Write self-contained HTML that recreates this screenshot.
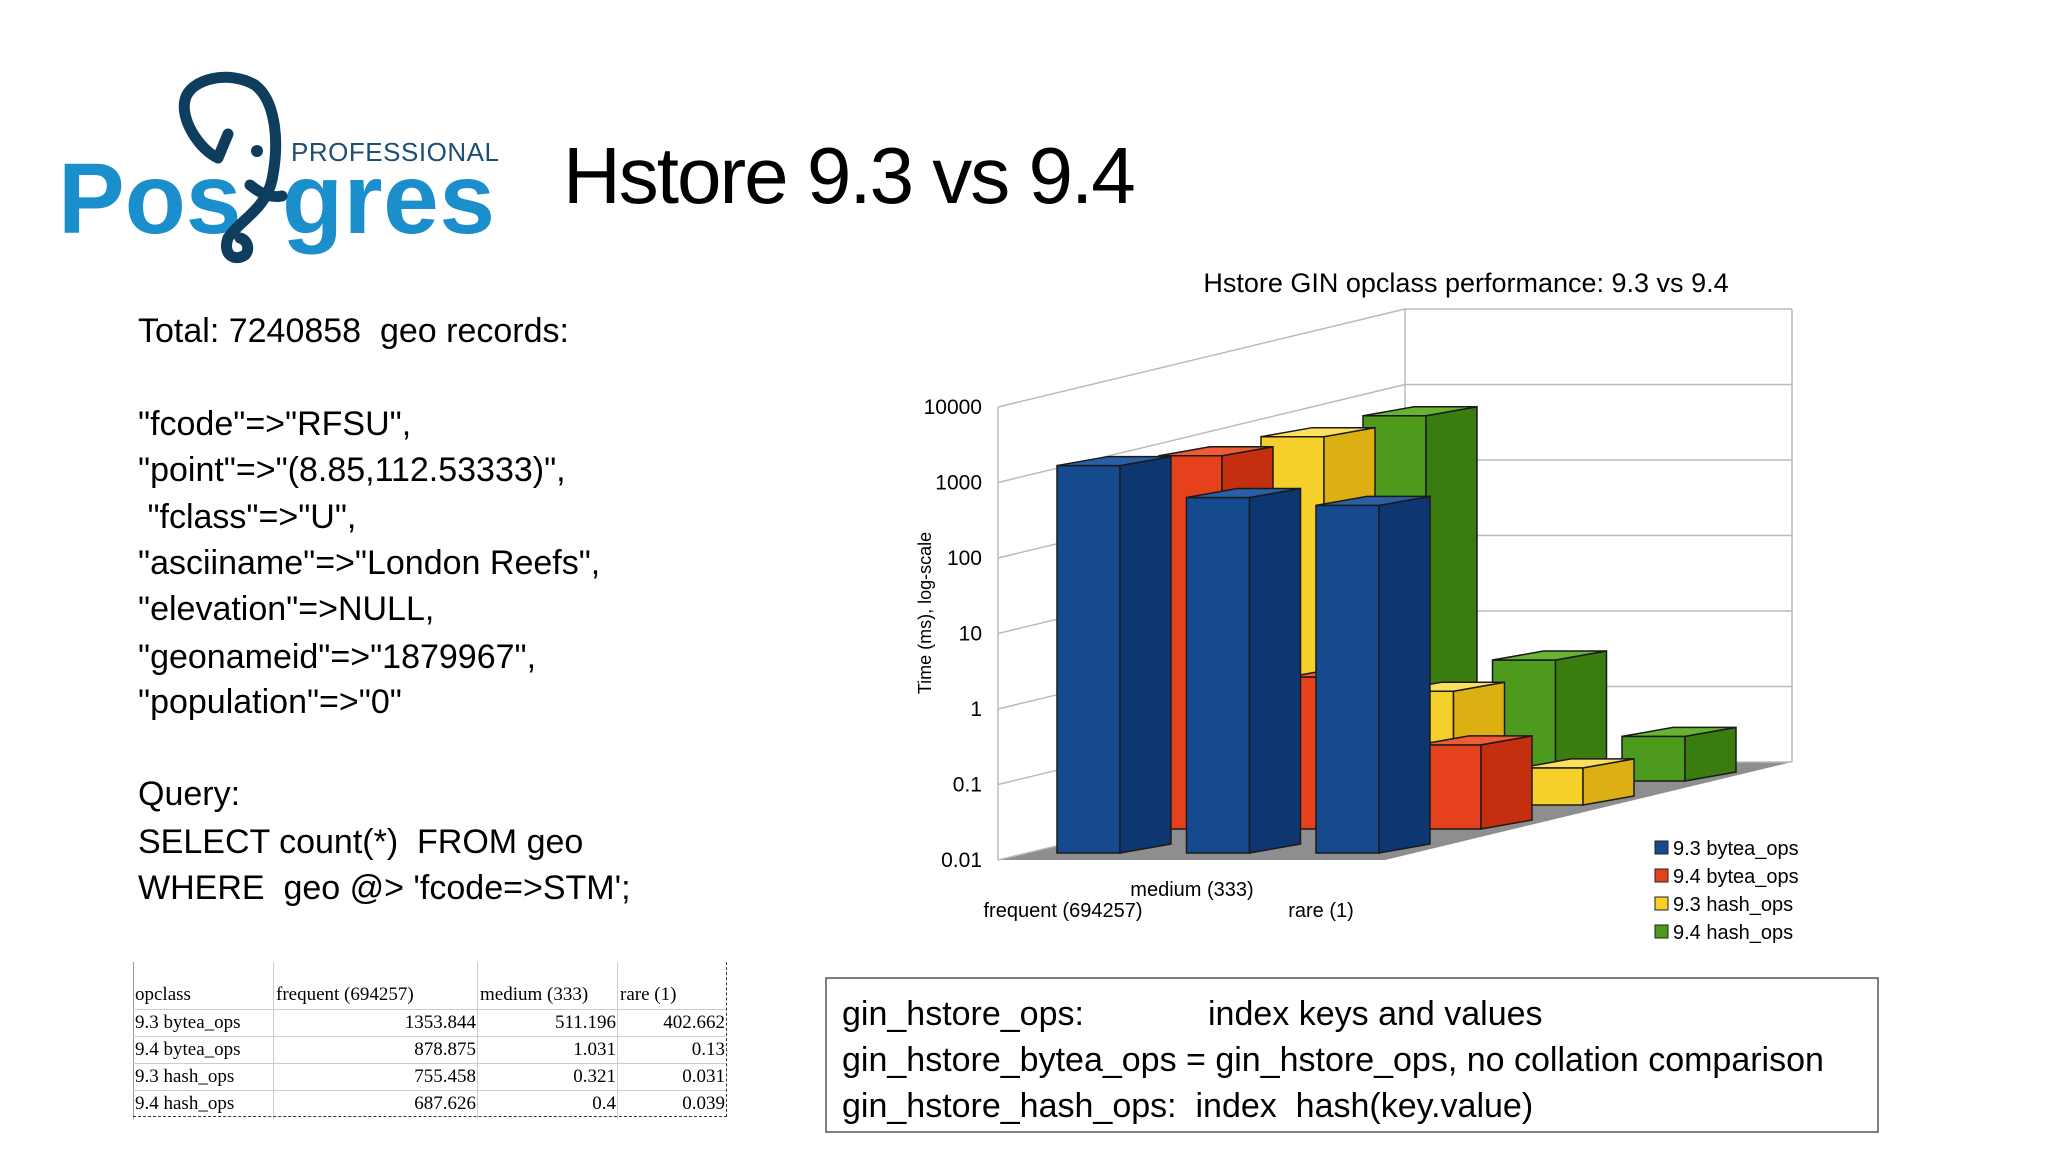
<!DOCTYPE html>
<html><head><meta charset="utf-8"><style>
html,body{margin:0;padding:0;background:#fff;}
#root{position:relative;width:2048px;height:1152px;overflow:hidden;font-family:"Liberation Sans",sans-serif;}
.t{position:absolute;white-space:pre;font-size:34px;color:#000;line-height:40px;}
table{position:absolute;border-collapse:collapse;font-family:"Liberation Serif",serif;font-size:19px;}
td{padding:0 1px;line-height:26px;}
</style></head><body>
<div id="root">
<svg width="2048" height="1152" style="position:absolute;left:0;top:0">
  <g>
    <text x="58" y="233" font-family="Liberation Sans,sans-serif" font-weight="bold" font-size="100" fill="#1a8fcb">Pos</text>
    <text x="282" y="233" font-family="Liberation Sans,sans-serif" font-weight="bold" font-size="100" fill="#1a8fcb" textLength="213">gres</text>
    <text x="291" y="161" font-family="Liberation Sans,sans-serif" font-size="26" fill="#1d4f73" textLength="208">PROFESSIONAL</text>
    <path d="M218,158 L228,134 M218,158 C200,150 180,120 185,100 C190,78 230,70 255,85 C275,100 280,140 272,180 C265,210 240,220 228,238 C222,255 235,262 245,255 C250,250 248,240 240,238 M250,185 C262,195 272,198 282,196" fill="none" stroke="#0e3d5e" stroke-width="11" stroke-linecap="round"/>
    <circle cx="257" cy="151" r="6" fill="#0e3d5e"/>
  </g>
  <text x="563" y="203" font-family="Liberation Sans,sans-serif" font-size="80" letter-spacing="-2" fill="#000">Hstore 9.3 vs 9.4</text>
  <g id="chart"></g>
  <rect x="826" y="978" width="1052" height="154" fill="none" stroke="#555" stroke-width="1.5"/>
</svg>

<div class="t" style="left:138px;top:311px">Total: 7240858  geo records:</div>
<div class="t" style="left:138px;top:404px">"fcode"=&gt;"RFSU",</div>
<div class="t" style="left:138px;top:450px">"point"=&gt;"(8.85,112.53333)",</div>
<div class="t" style="left:138px;top:497px"> "fclass"=&gt;"U",</div>
<div class="t" style="left:138px;top:543px">"asciiname"=&gt;"London Reefs",</div>
<div class="t" style="left:138px;top:589px">"elevation"=&gt;NULL,</div>
<div class="t" style="left:138px;top:637px">"geonameid"=&gt;"1879967",</div>
<div class="t" style="left:138px;top:682px">"population"=&gt;"0"</div>
<div class="t" style="left:138px;top:774px">Query:</div>
<div class="t" style="left:138px;top:822px">SELECT count(*)  FROM geo</div>
<div class="t" style="left:138px;top:868px">WHERE  geo @&gt; 'fcode=&gt;STM';</div>

<div class="t" style="left:842px;top:994px">gin_hstore_ops:</div>
<div class="t" style="left:1208px;top:994px">index keys and values</div>
<div class="t" style="left:842px;top:1040px">gin_hstore_bytea_ops = gin_hstore_ops, no collation comparison</div>
<div class="t" style="left:842px;top:1086px">gin_hstore_hash_ops:  index  hash(key.value)</div>

<div style="position:absolute;left:133px;top:962px;width:1px;height:157px;background:#999"></div>
<div style="position:absolute;left:273px;top:962px;width:1px;height:157px;background:#ccc"></div>
<div style="position:absolute;left:477px;top:962px;width:1px;height:157px;background:#ccc"></div>
<div style="position:absolute;left:617px;top:962px;width:1px;height:157px;background:#ccc"></div>
<div style="position:absolute;left:726px;top:962px;height:155px;border-left:1.5px dashed #333"></div>
<div style="position:absolute;left:133px;top:1116px;width:594px;border-top:1.5px dashed #333"></div>
<table style="left:133px;top:982px;width:593px">
<colgroup><col style="width:140px"><col style="width:204px"><col style="width:140px"><col style="width:109px"></colgroup>
<tr style="height:27px;border-bottom:1px solid #ccc"><td style="padding-left:2px">opclass</td><td style="padding-left:3px">frequent (694257)</td><td style="padding-left:3px">medium (333)</td><td style="padding-left:3px">rare (1)</td></tr>
<tr style="height:27px;border-bottom:1px solid #ccc"><td style="padding-left:2px">9.3 bytea_ops</td><td align="right">1353.844</td><td align="right">511.196</td><td align="right">402.662</td></tr>
<tr style="height:27px;border-bottom:1px solid #ccc"><td style="padding-left:2px">9.4 bytea_ops</td><td align="right">878.875</td><td align="right">1.031</td><td align="right">0.13</td></tr>
<tr style="height:27px;border-bottom:1px solid #ccc"><td style="padding-left:2px">9.3 hash_ops</td><td align="right">755.458</td><td align="right">0.321</td><td align="right">0.031</td></tr>
<tr style="height:27px"><td style="padding-left:2px">9.4 hash_ops</td><td align="right">687.626</td><td align="right">0.4</td><td align="right">0.039</td></tr>
</table>
</div>
<script>
const categories = ["frequent (694257)", "medium (333)", "rare (1)"];
const seriesNames = ["9.3 bytea_ops", "9.4 bytea_ops", "9.3 hash_ops", "9.4 hash_ops"];
const s93bytea = [1353.844, 511.196, 402.662];
const s94bytea = [878.875, 1.031, 0.13];
const s93hash = [755.458, 0.321, 0.031];
const s94hash = [687.626, 0.4, 0.039];
const tickValues = [0.01, 0.1, 1, 10, 100, 1000, 10000];
const tickLabels = ["0.01", "0.1", "1", "10", "100", "1000", "10000"];

const NS = "http://www.w3.org/2000/svg";
const g = document.getElementById("chart");
function el(tag, attrs, parent) {
  const e = document.createElementNS(NS, tag);
  for (const k in attrs) e.setAttribute(k, attrs[k]);
  (parent || g).appendChild(e);
  return e;
}
const DEC = 75.5, X0 = 998, Y0 = 860, WDX = 407, WDY = -98, WR = 1792;
const ROWDX = 102, ROWDY = -24, BW = 63, SDX = 51, SDY = -9;
function yTick(v) { return Y0 - (Math.log10(v) + 2) * DEC; }
function baseY(d) { return 853 + ROWDY * d; }
function yBar(v, d) { return baseY(d) - (Math.log10(v) + 2) * DEC; }
function xCat(i, d) { return 1057 + i * 129.5 + ROWDX * d; }

const walls = el("g", {});


el("polygon", { points: `${X0},${Y0} ${WR - WDX},${Y0} ${WR},${Y0 + WDY} ${X0 + WDX},${Y0 + WDY}`, fill: "#8e8e8e" }, walls);
el("line", { x1: X0, y1: yTick(10000), x2: X0, y2: Y0, stroke: "#bbb", "stroke-width": 1.5 }, walls);
el("line", { x1: X0 + WDX, y1: yTick(10000) + WDY, x2: X0 + WDX, y2: Y0 + WDY, stroke: "#bbb", "stroke-width": 1.5 }, walls);
el("line", { x1: WR, y1: yTick(10000) + WDY, x2: WR, y2: Y0 + WDY, stroke: "#bbb", "stroke-width": 1.5 }, walls);
tickValues.forEach((v, i) => {
  const y = yTick(v);
  const gl = el("polyline", { points: `${X0},${y} ${X0 + WDX},${y + WDY} ${WR},${y + WDY}`, fill: "none", stroke: "#bbb", "stroke-width": 1.5 }, walls);
  
  
  const t = el("text", { x: 982, y: y + 7, "text-anchor": "end", "font-size": 21, "font-family": "Liberation Sans, sans-serif" });
  t.textContent = tickLabels[i];
  
  
});

const series = [s93bytea, s94bytea, s93hash, s94hash];
const colors = [["#164a8e", "#0e3670", "#2c5ea6"], ["#e5411d", "#c4300f", "#f05a35"], ["#f5cf2a", "#dcb012", "#fbe060"], ["#4e9a1c", "#3a7c10", "#68b330"]];
for (let d = series.length - 1; d >= 0; d--) {
  series[d].forEach((v, i) => {
    const x = xCat(i, d), b = baseY(d), t = yBar(v, d);
    const bar = el("g", {});
    
    
    const c = colors[d];
    el("rect", { x: x, y: t, width: BW, height: b - t, fill: c[0], stroke: "#1a1a1a", "stroke-width": 1.5 }, bar);
    el("polygon", { points: `${x + BW},${b} ${x + BW + SDX},${b + SDY} ${x + BW + SDX},${t + SDY} ${x + BW},${t}`, fill: c[1], stroke: "#1a1a1a", "stroke-width": 1.5 }, bar);
    el("polygon", { points: `${x},${t} ${x + SDX},${t + SDY} ${x + BW + SDX},${t + SDY} ${x + BW},${t}`, fill: c[2], stroke: "#1a1a1a", "stroke-width": 1.5 }, bar);
  });
}
const catPos = [[1063, 917], [1192, 896], [1321, 917]];
categories.forEach((c, i) => {
  const t = el("text", { x: catPos[i][0], y: catPos[i][1], "text-anchor": "middle", "font-size": 20, "font-family": "Liberation Sans, sans-serif" });
  t.textContent = c;
  
  
});
const yt = el("text", { x: 0, y: 0, transform: "translate(931,613) rotate(-90)", "text-anchor": "middle", "font-size": 18, "font-family": "Liberation Sans, sans-serif" });
yt.textContent = "Time (ms), log-scale";


const ct = el("text", { x: 1466, y: 292, "text-anchor": "middle", "font-size": 27, "font-family": "Liberation Sans, sans-serif" });
ct.textContent = "Hstore GIN opclass performance: 9.3 vs 9.4";


seriesNames.forEach((n, i) => {
  const y = 848 + i * 28;
  const le = el("g", {});
  
  
  el("rect", { x: 1655, y: y - 7, width: 13, height: 13, fill: colors[i][0], stroke: "#222" }, le);
  const t = el("text", { x: 1673, y: y + 7, "font-size": 20, "font-family": "Liberation Sans, sans-serif" }, le);
  t.textContent = n;
});
</script>
</body></html>
